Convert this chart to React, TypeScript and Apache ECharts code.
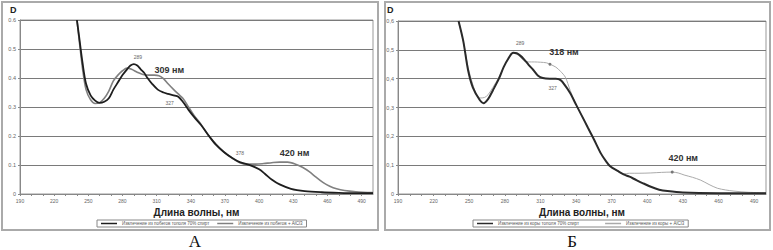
import React, { useEffect, useRef } from "react";
import * as echarts from "echarts";

// ---------- Data ----------
// Panel А: extract from poplar shoots
const aDarkNm = [240, 242, 245, 248, 252, 256, 260, 264, 268, 272, 276, 280, 284, 287, 290, 293, 296, 299, 302, 306, 311, 316, 320, 325, 329, 333, 338, 343, 349, 355, 362, 369, 376, 383, 393, 400, 405, 411, 418, 428, 440, 455, 470, 485, 500];
const aDarkD = [0.6, 0.54, 0.45, 0.38, 0.34, 0.322, 0.314, 0.318, 0.33, 0.36, 0.385, 0.41, 0.43, 0.443, 0.448, 0.443, 0.43, 0.418, 0.4, 0.38, 0.36, 0.35, 0.345, 0.34, 0.335, 0.318, 0.29, 0.265, 0.238, 0.205, 0.17, 0.145, 0.125, 0.11, 0.098, 0.085, 0.07, 0.05, 0.033, 0.018, 0.01, 0.006, 0.004, 0.003, 0.003];
const aGrayNm = [240, 242, 245, 248, 252, 256, 260, 264, 268, 272, 276, 280, 284, 288, 293, 298, 303, 308, 312, 316, 320, 325, 329, 333, 338, 343, 349, 355, 362, 369, 376, 383, 390, 397, 404, 411, 418, 425, 432, 438, 444, 450, 456, 462, 468, 475, 485, 500];
const aGrayD = [0.6, 0.53, 0.43, 0.36, 0.325, 0.312, 0.315, 0.33, 0.355, 0.39, 0.41, 0.425, 0.434, 0.43, 0.42, 0.412, 0.41, 0.41, 0.408, 0.398, 0.38, 0.36, 0.345, 0.33, 0.3, 0.27, 0.24, 0.205, 0.172, 0.145, 0.125, 0.108, 0.103, 0.103, 0.105, 0.108, 0.11, 0.11, 0.103, 0.092, 0.077, 0.058, 0.04, 0.027, 0.018, 0.012, 0.008, 0.005];

// Panel Б: extract from poplar bark
const bDarkNm = [241, 245, 249, 253, 259, 262, 266, 270, 275, 279, 283, 287, 290, 293, 296, 300, 304, 308, 312, 318, 323, 327, 331, 335, 340, 345, 350, 355, 361, 365, 369, 375, 380, 385, 389, 396, 403, 410, 417, 430, 460, 500];
const bDarkD = [0.6, 0.53, 0.43, 0.37, 0.325, 0.315, 0.33, 0.36, 0.4, 0.44, 0.47, 0.49, 0.488, 0.48, 0.468, 0.448, 0.43, 0.41, 0.402, 0.4, 0.4, 0.395, 0.375, 0.35, 0.31, 0.27, 0.23, 0.19, 0.14, 0.115, 0.095, 0.08, 0.068, 0.06, 0.052, 0.038, 0.025, 0.015, 0.01, 0.005, 0.003, 0.003];
const bGrayNm = [241, 245, 249, 253, 256, 259, 263, 266, 270, 275, 279, 283, 287, 290, 293, 296, 300, 305, 310, 315, 318, 323, 327, 331, 335, 340, 345, 350, 355, 361, 365, 369, 375, 380, 385, 393, 403, 412, 421, 426, 431, 438, 445, 452, 459, 466, 473, 485, 500];
const bGrayD = [0.6, 0.53, 0.44, 0.38, 0.345, 0.333, 0.335, 0.345, 0.37, 0.405, 0.44, 0.47, 0.488, 0.485, 0.475, 0.462, 0.458, 0.458, 0.457, 0.455, 0.45, 0.44, 0.425, 0.405, 0.36, 0.31, 0.27, 0.23, 0.19, 0.14, 0.115, 0.095, 0.08, 0.07, 0.072, 0.072, 0.073, 0.075, 0.076, 0.073, 0.066, 0.058, 0.048, 0.033, 0.02, 0.014, 0.01, 0.006, 0.004];

const xTickLabels = [190, 220, 250, 280, 310, 340, 370, 400, 430, 460, 490];
const yTickLabels = [0, 0.1, 0.2, 0.3, 0.4, 0.5, 0.6];

const aNames = ["Извлечение из побегов тополя 70% спирт", "Извлечение из побегов + AlCl3"];
const bNames = ["Извлечение из коры тополя 70% спирт", "Извлечение из коры + AlCl3"];

const zip = (xs: number[], ys: number[]) => xs.map((x, i) => [x, ys[i]]);
const at = (xs: number[], ys: number[], nm: number) => [nm, ys[xs.indexOf(nm)]];

export default function App() {
  const ref = useRef<HTMLDivElement>(null);
  useEffect(() => {
    if (!ref.current) return;
    const chart = echarts.init(ref.current, undefined, { renderer: "svg" });
    const font = "Arial, 'Liberation Sans', sans-serif";

    const xAxisBase = (gridIndex: number) => ({
      type: "value",
      gridIndex,
      min: 190,
      max: 500,
      interval: 10,
      name: "Длина волны, нм",
      nameLocation: "middle",
      nameGap: 13,
      nameTextStyle: { fontFamily: font, fontSize: 10, fontWeight: "bold", color: "#222" },
      axisLine: { show: true, lineStyle: { color: "#888", width: 1 } },
      axisTick: { show: true, length: 2, lineStyle: { color: "#888" } },
      axisLabel: {
        fontFamily: font,
        fontSize: 5,
        color: "#666",
        margin: 4,
        showMaxLabel: false,
        formatter: (v: number) => (xTickLabels.includes(v) ? String(v) : ""),
      },
      splitLine: { show: false },
    });
    const yAxisBase = (gridIndex: number, comma: boolean) => ({
      type: "value",
      gridIndex,
      min: 0,
      max: 0.6,
      interval: 0.1,
      axisLine: { show: true, lineStyle: { color: "#888", width: 1 } },
      axisTick: { show: true, length: 2, lineStyle: { color: "#888" } },
      axisLabel: {
        fontFamily: font,
        fontSize: 5.5,
        color: "#666",
        margin: 4,
        formatter: (v: number) => {
          const r = Math.round(v * 10) / 10;
          if (!yTickLabels.includes(r)) return "";
          const s = r === 0 ? "0" : r.toFixed(1);
          return comma ? s.replace(".", ",") : s;
        },
      },
      splitLine: { show: true, lineStyle: { color: "#7a7a7a", width: 1 } },
    });

    const smallLbl = (text: string, off: number[]) => ({
      show: true,
      formatter: text,
      offset: off,
      fontFamily: font,
      fontSize: 5,
      color: "#666",
    });
    const bigLbl = (text: string, off: number[]) => ({
      show: true,
      formatter: text,
      offset: off,
      fontFamily: font,
      fontSize: 9,
      fontWeight: "bold",
      color: "#333",
    });

    const legendBase = (data: string[], left: number, gap: number) => ({
      data,
      left,
      top: 220,
      orient: "horizontal",
      padding: [1, 4],
      itemGap: gap,
      itemWidth: 16,
      itemHeight: 1.5,
      icon: "rect",
      borderColor: "#888",
      borderWidth: 1,
      textStyle: { fontFamily: font, fontSize: 4.5, color: "#555" },
    });

    const option: any = {
      animation: false,
      backgroundColor: "#fff",
      grid: [
        { left: 20, top: 20, width: 353, height: 174, show: true, borderColor: "#999", borderWidth: 1 },
        { left: 398, top: 21, width: 368, height: 173, show: true, borderColor: "#999", borderWidth: 1 },
      ],
      xAxis: [xAxisBase(0), xAxisBase(1)],
      yAxis: [yAxisBase(0, false), yAxisBase(1, true)],
      legend: [legendBase(aNames, 97, 8), legendBase(bNames, 473, 26)],
      series: [
        {
          name: aNames[1],
          type: "line",
          xAxisIndex: 0,
          yAxisIndex: 0,
          data: zip(aGrayNm, aGrayD),
          smooth: 0.3,
          symbol: "none",
          lineStyle: { color: "#808080", width: 1.6 },
          itemStyle: { color: "#808080" },
          markPoint: {
            symbol: "circle",
            symbolSize: 0,
            data: [
              { coord: at(aGrayNm, aGrayD, 308), label: bigLbl("309 нм", [15, -5]) },
              { coord: at(aGrayNm, aGrayD, 418), label: bigLbl("420 нм", [15, -9]) },
            ],
          },
        },
        {
          name: aNames[0],
          type: "line",
          xAxisIndex: 0,
          yAxisIndex: 0,
          data: zip(aDarkNm, aDarkD),
          smooth: 0.3,
          symbol: "none",
          lineStyle: { color: "#1e1e1e", width: 1.8 },
          itemStyle: { color: "#1e1e1e" },
          markPoint: {
            symbol: "circle",
            symbolSize: 0,
            data: [
              { coord: at(aDarkNm, aDarkD, 290), label: smallLbl("289", [4, -7]) },
              { coord: at(aDarkNm, aDarkD, 325), label: smallLbl("327", [-4, 8]) },
              { coord: at(aDarkNm, aDarkD, 376), label: smallLbl("378", [8, -5]) },
            ],
          },
        },
        {
          name: bNames[1],
          type: "line",
          xAxisIndex: 1,
          yAxisIndex: 1,
          data: zip(bGrayNm, bGrayD),
          smooth: 0.3,
          symbol: "none",
          lineStyle: { color: "#aaaaaa", width: 1 },
          itemStyle: { color: "#aaaaaa" },
          markPoint: {
            symbol: "circle",
            symbolSize: 3,
            itemStyle: { color: "#777" },
            data: [
              { coord: at(bGrayNm, bGrayD, 318), label: bigLbl("318 нм", [14, -12]) },
              { coord: at(bGrayNm, bGrayD, 421), label: bigLbl("420 нм", [11, -14]) },
            ],
          },
        },
        {
          name: bNames[0],
          type: "line",
          xAxisIndex: 1,
          yAxisIndex: 1,
          data: zip(bDarkNm, bDarkD),
          smooth: 0.3,
          symbol: "none",
          lineStyle: { color: "#2a2a2a", width: 2 },
          itemStyle: { color: "#2a2a2a" },
          markPoint: {
            symbol: "circle",
            symbolSize: 0,
            data: [
              { coord: at(bDarkNm, bDarkD, 287), label: smallLbl("289", [7, -10]) },
              { coord: at(bDarkNm, bDarkD, 327), label: smallLbl("327", [-8, 8]) },
            ],
          },
        },
      ],
      graphic: [
        { type: "rect", shape: { x: 2, y: 2, width: 376, height: 228 }, style: { fill: "none", stroke: "#aaa", lineWidth: 2 }, silent: true },
        { type: "rect", shape: { x: 385, y: 2, width: 385, height: 228 }, style: { fill: "none", stroke: "#aaa", lineWidth: 2 }, silent: true },
        { type: "text", x: 10, y: 5, style: { text: "D", fontFamily: font, fontSize: 9, fontWeight: "bold", fill: "#222" } },
        { type: "text", x: 387, y: 5, style: { text: "D", fontFamily: font, fontSize: 9, fontWeight: "bold", fill: "#222" } },
        { type: "text", x: 195, y: 233, style: { text: "А", fontFamily: "'Liberation Serif', 'DejaVu Serif', serif", fontSize: 17, fill: "#111", align: "center" } },
        { type: "text", x: 572, y: 233, style: { text: "Б", fontFamily: "'Liberation Serif', 'DejaVu Serif', serif", fontSize: 17, fill: "#111", align: "center" } },
      ],
    };
    chart.setOption(option);
    return () => chart.dispose();
  }, []);
  return (
    <div
      ref={ref}
      style={{ position: "fixed", left: 0, top: 0, width: 773, height: 250, background: "#fff" }}
    />
  );
}
